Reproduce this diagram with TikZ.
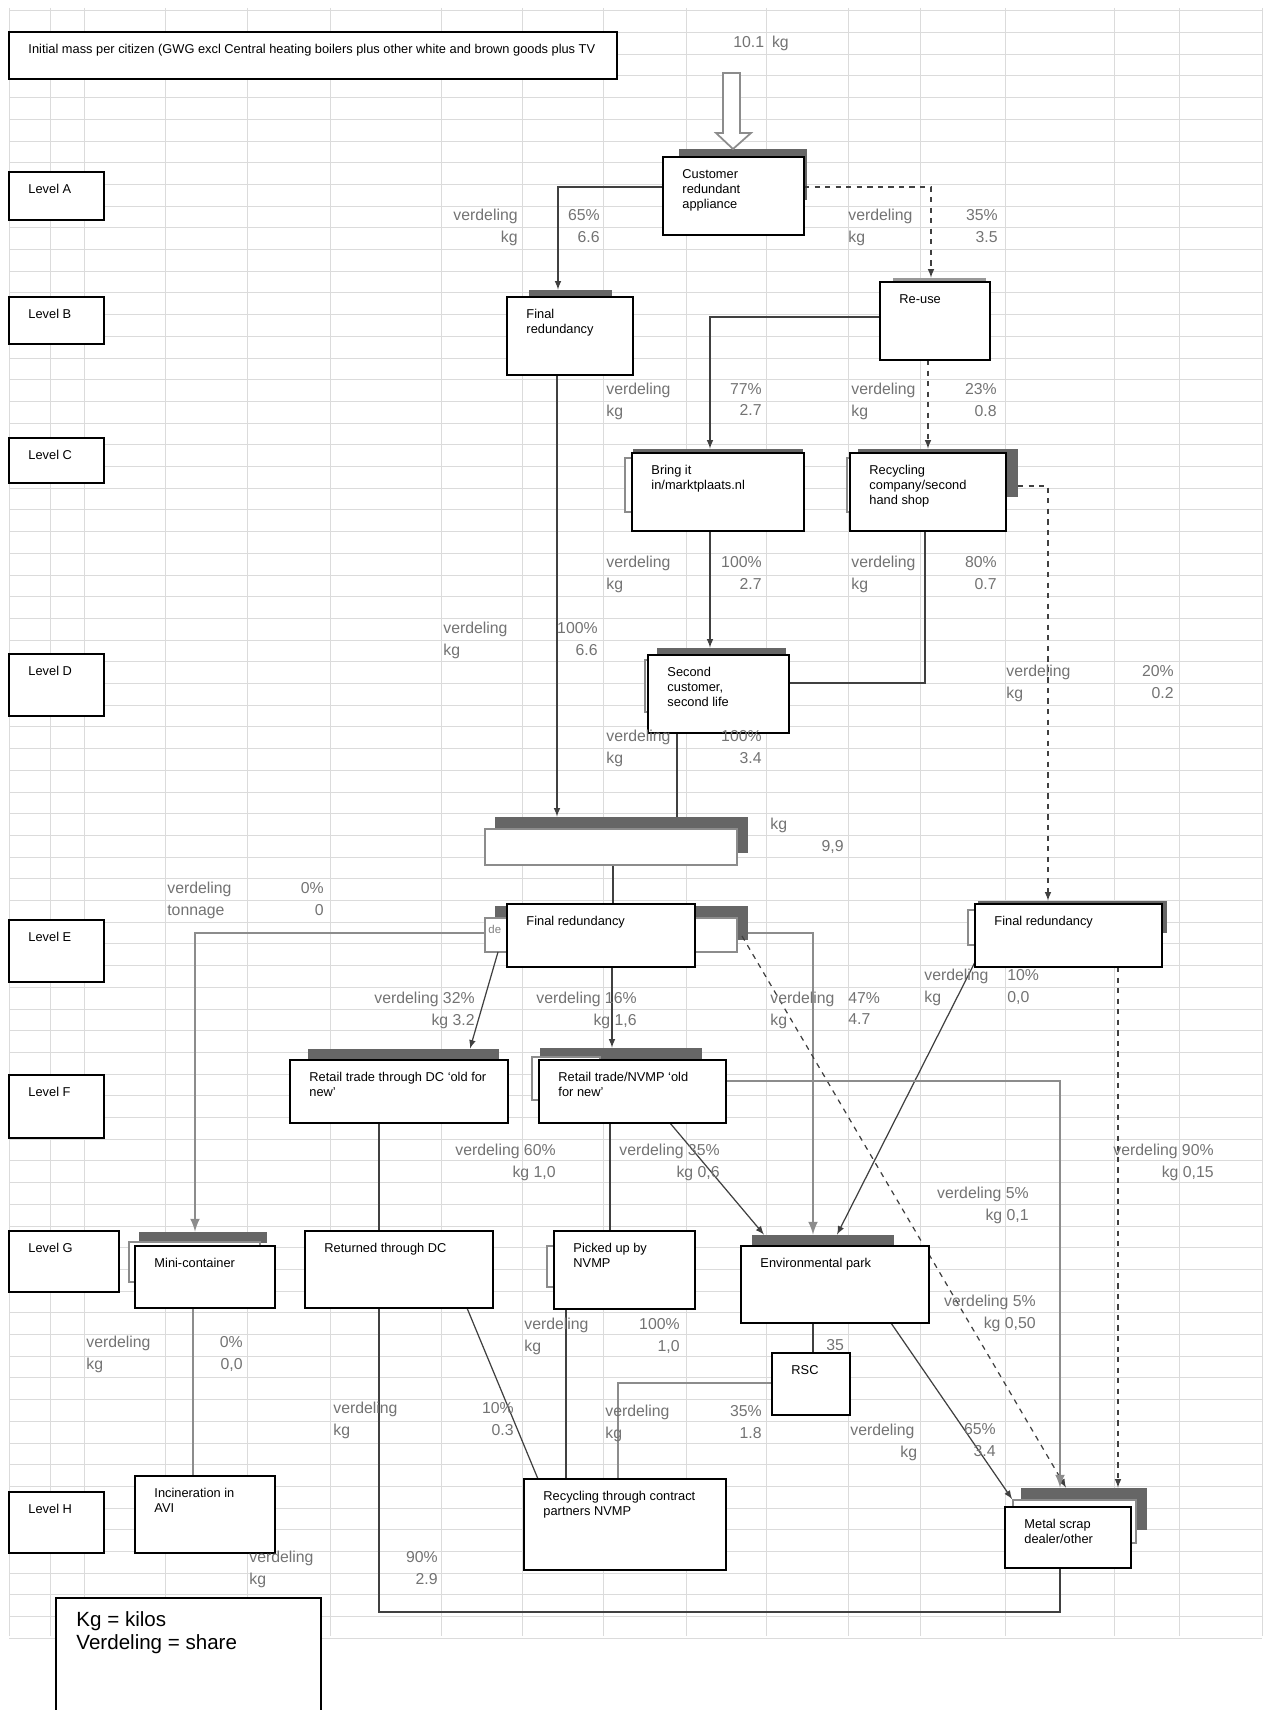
\documentclass[tikz,border=0pt]{standalone}
\usepackage{fontspec}
\setmainfont{Liberation Sans}
\usetikzlibrary{fit}

\tikzset{
	box/.style={draw=black, line width=1pt, fill=white, inner sep=0pt},
	ghost/.style={draw=black!45, line width=1pt, fill=white, inner sep=0pt},
	bar/.style={fill=black!60, draw=none, inner sep=0pt},
	boxtext/.style={anchor=north west, inner sep=0pt, align=left, font=\fontsize{7.3}{8.6}\selectfont},
	tag/.style={text=black!55, inner sep=0pt, font=\fontsize{9}{12.3}\selectfont},
	flow/.style={draw=black!75, line width=0.7pt},
	flowgrey/.style={draw=black!45, line width=1.5pt},
	sheet/.style={draw=black!14, line width=0.5pt},
}

\begin{document}
\begin{tikzpicture}[x=0.02cm, y=-0.02cm]
		\useasboundingbox (0,0) rectangle (1265,1710);
		% spreadsheet grid behind the chart
		\foreach \gx in {9,50,84,165,247,330,441,522,603,686,766,848,920,1005,1114,1179,1262}
			\draw[sheet] (\gx,8) -- (\gx,1636);
		\foreach \k in {0,...,75}
			\draw[sheet] (9,{10.8+21.7*\k}) -- (1262,{10.8+21.7*\k});

		% grey bars and ghost boxes of the original chart
		\node[bar, fit={(679,149) (807,200)}] (custbar) {};
		\node[bar, fit={(529,290) (612,300)}] (finBbar) {};
		\node[bar, fill=black!40, fit={(893,278) (986,284)}] (reusebar) {};
		\node[bar, fit={(633,449) (803,456)}] (bringbar) {};
		\node[ghost, fit={(625,458) (700,512)}] (bringghost) {};
		\node[bar, fit={(858,449) (1018,497)}] (recycbar) {};
		\node[ghost, fit={(847,458) (950,512)}] (recycghost) {};
		\node[bar, fit={(657,648) (786,656)}] (secondbar) {};
		\node[ghost, fit={(645,660) (700,712)}] (secondghost) {};
		\node[bar, fit={(495,817) (748,853)}] (widebar) {};
		\node[bar, fit={(495,906) (748,940)}] (Ebar) {};
		\node[ghost, fit={(485,918) (737,952)}] (Eghost) {};
		\node[bar, fit={(978,901) (1167,933)}] (FRrbar) {};
		\node[ghost, fit={(968,910) (1100,945)}] (FRrghost) {};
		\node[bar, fit={(308,1049) (499,1061)}] (retailDCbar) {};
		\node[bar, fit={(540,1048) (702,1061)}] (nvmpbar) {};
		\node[ghost, fit={(532,1057) (600,1100)}] (nvmpghost) {};
		\node[bar, fit={(139,1232) (267,1243)}] (minibar) {};
		\node[ghost, fit={(129,1242) (260,1282)}] (minighost) {};
		\node[ghost, fit={(547,1246) (600,1287)}] (pickedghost) {};
		\node[bar, fit={(752,1235) (894,1247)}] (envbar) {};
		\node[bar, fit={(1021,1488) (1147,1530)}] (metalbar) {};
		\node[ghost, fit={(1013,1500) (1136,1543)}] (metalghost) {};

		% hollow input arrow
		\draw[draw=black!45, line width=1pt, fill=white] (723,73) -- (740,73) -- (740,133) -- (751,133) -- (733,149) -- (716,133) -- (723,133) -- cycle;

		% connectors
		\draw[flow, -latex] (663,187) -| (finBbar.north -| 558,0);
		\draw[flow, dashed, -latex] (804,187) -| (reusebar.north -| 931,0);
		\coordinate (reusejoin) at (880,317);
		\coordinate (secondjoin) at (925,683);
		\coordinate (Ejoin) at (485,933);
		\coordinate (Erjoin) at (748,933);
		\coordinate (nvmpjoin) at (726,1081);
		\coordinate (rscjoin) at (772,1383);
		\coordinate (loopend) at (1060,1612);
		\draw[flow, -latex] (reusejoin) -| (bringbar.north -| 710,0);
		\draw[flow, dashed, -latex] (928,360) -- (recycbar.north -| 928,0);
		\draw[flow, -latex] (557,375) -- (widebar.north -| 557,0);
		\draw[flow, -latex] (710,531) -- (secondbar.north -| 710,0);
		\draw[flow] (925,531) -- (secondjoin) -- (789,683);
		\draw[flow, dashed, -latex] (1018,486) -| (FRrbar.north -| 1048,0);
		\draw[flow] (677,733) -- (widebar.north -| 677,0);
		\draw[flow] (613,865) -- (Ebar.north -| 613,0);
		\draw[flowgrey, -latex] (Ejoin) -| (minibar.north -| 195,0);
		\draw[flow, -latex] (498,952) -- (retailDCbar.north -| 470,0);
		\draw[flow, -latex] (612,967) -- (nvmpbar.north -| 612,0);
		\draw[flowgrey, -latex] (Erjoin) -| (envbar.north -| 813,0);
		\draw[flow, dashed, -latex] (742,936) -- (metalbar.north -| 1066,0);
		\draw[flow, -latex] (975,962) -- (envbar.north -| 837,0);
		\draw[flow, dashed, -latex] (1118,967) -- (metalbar.north -| 1118,0);
		\draw[flowgrey, -latex] (nvmpjoin) -| (metalbar.north -| 1060,0);
		\draw[flow, -latex] (670,1123) -- (envbar.north -| 764,0);
		\draw[flow] (610,1123) -- (610,1231);
		\draw[flow] (379,1123) -- (379,1231);
		\draw[flow] (379,1308) |- (loopend) -- (1060,1568);
		\draw[flow] (467,1308) -- (538,1479);
		\draw[flow] (566,1309) -- (566,1479);
		\draw[flowgrey] (rscjoin) -| (618,1479);
		\draw[flow] (813,1323) -- (813,1353);
		\draw[flow, -latex] (891,1323) -- (metalghost.north west);
		\draw[flowgrey] (193,1308) -- (193,1476);

		% white text boxes
		\node[box, fit={(9,32) (617,79)}] (title) {};
		\node[box, fit={(9,172) (104,220)}] (levA) {};
		\node[box, fit={(9,297) (104,344)}] (levB) {};
		\node[box, fit={(9,438) (104,483)}] (levC) {};
		\node[box, fit={(9,654) (104,716)}] (levD) {};
		\node[box, fit={(9,920) (104,982)}] (levE) {};
		\node[box, fit={(9,1075) (104,1138)}] (levF) {};
		\node[box, fit={(9,1231) (119,1292)}] (levG) {};
		\node[box, fit={(9,1492) (104,1553)}] (levH) {};
		\node[box, fit={(663,157) (804,235)}] (cust) {};
		\node[box, fit={(507,297) (633,375)}] (finB) {};
		\node[box, fit={(880,282) (990,360)}] (reuse) {};
		\node[box, fit={(632,453) (804,531)}] (bring) {};
		\node[box, fit={(850,453) (1006,531)}] (recyc) {};
		\node[box, fit={(648,655) (789,733)}] (second) {};
		\node[ghost, fit={(485,829) (737,865)}] (wide) {};
		\node[box, fit={(507,904) (695,967)}] (FRe) {};
		\node[box, fit={(975,904) (1162,967)}] (FRr) {};
		\node[box, fit={(290,1060) (508,1123)}] (retailDC) {};
		\node[box, fit={(539,1060) (726,1123)}] (nvmp) {};
		\node[box, fit={(135,1246) (275,1308)}] (mini) {};
		\node[box, fit={(305,1231) (493,1308)}] (retDC) {};
		\node[box, fit={(554,1231) (695,1309)}] (picked) {};
		\node[box, fit={(741,1246) (929,1323)}] (env) {};
		\node[box, fit={(772,1353) (850,1415)}] (rsc) {};
		\node[box, fit={(135,1476) (275,1553)}] (incin) {};
		\node[box, fit={(524,1479) (726,1570)}] (recycN) {};
		\node[box, fit={(1005,1507) (1131,1568)}] (metal) {};
		\node[box, fit={(56,1598) (321,1720)}] (legend) {};

		% box texts
		\node[boxtext] (title-t) at ([shift={(20,13)}]title.north west) {Initial mass per citizen (GWG excl Central heating boilers plus other white and brown goods plus TV};
		\node[boxtext] (levA-t) at ([shift={(20,13)}]levA.north west) {Level A};
		\node[boxtext] (levB-t) at ([shift={(20,13)}]levB.north west) {Level B};
		\node[boxtext] (levC-t) at ([shift={(20,13)}]levC.north west) {Level C};
		\node[boxtext] (levD-t) at ([shift={(20,13)}]levD.north west) {Level D};
		\node[boxtext] (levE-t) at ([shift={(20,13)}]levE.north west) {Level E};
		\node[boxtext] (levF-t) at ([shift={(20,13)}]levF.north west) {Level F};
		\node[boxtext] (levG-t) at ([shift={(20,13)}]levG.north west) {Level G};
		\node[boxtext] (levH-t) at ([shift={(20,13)}]levH.north west) {Level H};
		\node[boxtext] (cust-t) at ([shift={(20,13)}]cust.north west) {Customer\\redundant\\appliance};
		\node[boxtext] (finB-t) at ([shift={(20,13)}]finB.north west) {Final\\redundancy};
		\node[boxtext] (reuse-t) at ([shift={(20,13)}]reuse.north west) {Re-use};
		\node[boxtext] (bring-t) at ([shift={(20,13)}]bring.north west) {Bring it\\in/marktplaats.nl};
		\node[boxtext] (recyc-t) at ([shift={(20,13)}]recyc.north west) {Recycling\\company/second\\hand shop};
		\node[boxtext] (second-t) at ([shift={(20,13)}]second.north west) {Second\\customer,\\second life};
		\node[boxtext, font=\fontsize{6.5}{7}\selectfont, text=black!50] (Eghost-t) at ([shift={(4,8)}]Eghost.north west) {de};
		\node[boxtext] (FRe-t) at ([shift={(20,13)}]FRe.north west) {Final redundancy};
		\node[boxtext] (FRr-t) at ([shift={(20,13)}]FRr.north west) {Final redundancy};
		\node[boxtext] (retailDC-t) at ([shift={(20,13)}]retailDC.north west) {Retail trade through DC ‘old for\\new’};
		\node[boxtext] (nvmp-t) at ([shift={(20,13)}]nvmp.north west) {Retail trade/NVMP ‘old\\for new’};
		\node[boxtext] (mini-t) at ([shift={(20,13)}]mini.north west) {Mini-container};
		\node[boxtext] (retDC-t) at ([shift={(20,13)}]retDC.north west) {Returned through DC};
		\node[boxtext] (picked-t) at ([shift={(20,13)}]picked.north west) {Picked up by\\NVMP};
		\node[boxtext] (env-t) at ([shift={(20,13)}]env.north west) {Environmental park};
		\node[boxtext] (rsc-t) at ([shift={(20,13)}]rsc.north west) {RSC};
		\node[boxtext] (incin-t) at ([shift={(20,13)}]incin.north west) {Incineration in\\AVI};
		\node[boxtext] (recycN-t) at ([shift={(20,13)}]recycN.north west) {Recycling through contract\\partners NVMP};
		\node[boxtext] (metal-t) at ([shift={(20,13)}]metal.north west) {Metal scrap\\dealer/other};
		\node[boxtext, font=\fontsize{11.7}{13}\selectfont] (legend-t) at ([shift={(21,14)}]legend.north west) {Kg = kilos\\Verdeling = share};

		% shares and masses
		\node[tag, anchor=west] (in-kg) at (733,43) {10.1\enspace kg};
		\node[tag, anchor=north east, align=right] (sA1-l) at (518,209) {verdeling\\kg};
		\node[tag, anchor=north east, align=right] (sA1-r) at (600,209) {65\%\\6.6};
		\node[tag, anchor=north west, align=left] (sA2-l) at (848,209) {verdeling\\kg};
		\node[tag, anchor=north east, align=right] (sA2-r) at (998,209) {35\%\\3.5};
		\node[tag, anchor=north west, align=left] (sB1-l) at (606,383) {verdeling\\kg};
		\node[tag, anchor=north east, align=right] (sB1-r) at (762,383) {77\%\\2.7};
		\node[tag, anchor=north west, align=left] (sB2-l) at (851,383) {verdeling\\kg};
		\node[tag, anchor=north east, align=right] (sB2-r) at (997,383) {23\%\\0.8};
		\node[tag, anchor=north west, align=left] (sC1-l) at (606,556) {verdeling\\kg};
		\node[tag, anchor=north east, align=right] (sC1-r) at (762,556) {100\%\\2.7};
		\node[tag, anchor=north west, align=left] (sC2-l) at (851,556) {verdeling\\kg};
		\node[tag, anchor=north east, align=right] (sC2-r) at (997,556) {80\%\\0.7};
		\node[tag, anchor=north west, align=left] (sD1-l) at (443,622) {verdeling\\kg};
		\node[tag, anchor=north east, align=right] (sD1-r) at (598,622) {100\%\\6.6};
		\node[tag, anchor=north west, align=left] (sD2-l) at (1006,665) {verdeling\\kg};
		\node[tag, anchor=north east, align=right] (sD2-r) at (1174,665) {20\%\\0.2};
		\node[tag, anchor=north west, align=left] (sD3-l) at (606,730) {verdeling\\kg};
		\node[tag, anchor=north east, align=right] (sD3-r) at (762,730) {100\%\\3.4};
		\node[tag, anchor=west] (wide-kg) at (770,825) {kg};
		\node[tag, anchor=east] (wide-v) at (844,847) {9,9};
		\node[tag, anchor=north west, align=left] (sE1-l) at (167,882) {verdeling\\tonnage};
		\node[tag, anchor=north east, align=right] (sE1-r) at (324,882) {0\%\\0};
		\node[tag, anchor=north east, align=right] (sE2) at (475,992) {verdeling 32\%\\kg 3.2};
		\node[tag, anchor=north east, align=right] (sE3) at (637,992) {verdeling 16\%\\kg 1,6};
		\node[tag, anchor=north west, align=left] (sE4-l) at (770,992) {verdeling\\kg};
		\node[tag, anchor=north west, align=left] (sE4-r) at (848,992) {47\%\\4.7};
		\node[tag, anchor=north west, align=left] (sE5-l) at (924,969) {verdeling\\kg};
		\node[tag, anchor=north west, align=left] (sE5-r) at (1007,969) {10\%\\0,0};
		\node[tag, anchor=north east, align=right] (sF1) at (556,1144) {verdeling 60\%\\kg 1,0};
		\node[tag, anchor=north east, align=right] (sF2) at (720,1144) {verdeling 35\%\\kg 0,6};
		\node[tag, anchor=north east, align=right] (sF3) at (1214,1144) {verdeling 90\%\\kg 0,15};
		\node[tag, anchor=north east, align=right] (sF4) at (1029,1187) {verdeling 5\%\\kg 0,1};
		\node[tag, anchor=north east, align=right] (sG1) at (1036,1295) {verdeling 5\%\\kg 0,50};
		\node[tag, anchor=north west, align=left] (sG2-l) at (86,1336) {verdeling\\kg};
		\node[tag, anchor=north east, align=right] (sG2-r) at (243,1336) {0\%\\0,0};
		\node[tag, anchor=north west, align=left] (sG3-l) at (524,1318) {verdeling\\kg};
		\node[tag, anchor=north east, align=right] (sG3-r) at (680,1318) {100\%\\1,0};
		\node[tag, anchor=west] (rsc-v) at (826,1345) {35};
		\node[tag, anchor=north west, align=left] (sG4-l) at (333,1402) {verdeling\\kg};
		\node[tag, anchor=north east, align=right] (sG4-r) at (514,1402) {10\%\\0.3};
		\node[tag, anchor=north west, align=left] (sG5-l) at (605,1405) {verdeling\\kg};
		\node[tag, anchor=north east, align=right] (sG5-r) at (762,1405) {35\%\\1.8};
		\node[tag, anchor=west] (sG6-a) at (850,1431) {verdeling};
		\node[tag, anchor=west] (sG6-b) at (900,1453) {kg};
		\node[tag, anchor=north east, align=right] (sG6-r) at (996,1423) {65\%\\3.4};
		\node[tag, anchor=north west, align=left] (sH1-l) at (249,1551) {verdeling\\kg};
		\node[tag, anchor=north east, align=right] (sH1-r) at (438,1551) {90\%\\2.9};
	\end{tikzpicture}
\end{document}
